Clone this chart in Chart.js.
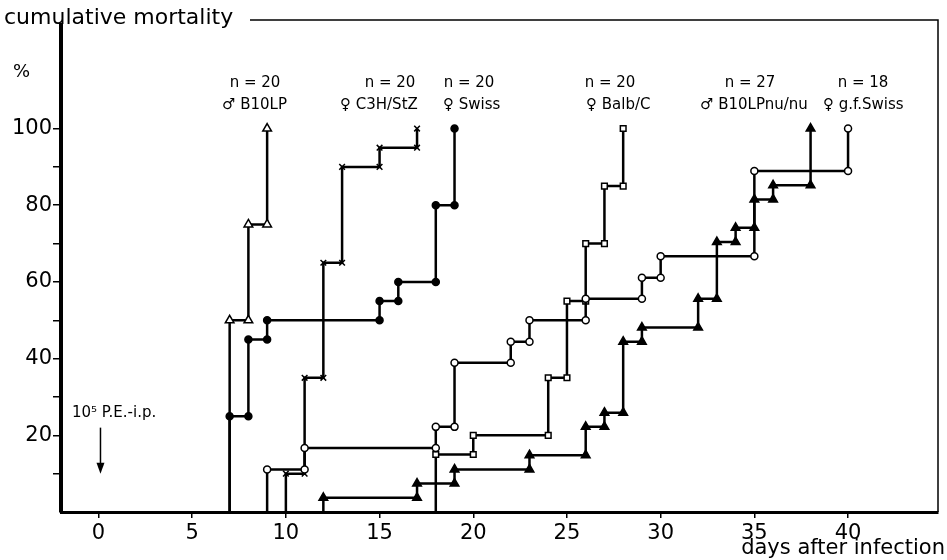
<!DOCTYPE html>
<html>
<head>
<meta charset="utf-8">
<script src="https://cdn.jsdelivr.net/npm/chart.js@4.4.1/dist/chart.umd.min.js"></script>
<style>
    body { margin: 0; background: #fff; }
    #wrap { width: 947px; height: 560px; }
</style>
</head>
<body>
<div id="wrap"><canvas id="mortality" width="947" height="560"></canvas></div>
<script>
// days on which deaths occurred and the cumulative mortality (%) reached that day
const b10lpDays = [7, 8, 9];
const b10lpPct = [50, 75, 100];
const c3hDays = [10, 11, 12, 13, 15, 17];
const c3hPct = [10, 35, 65, 90, 95, 100];
const swissDays = [7, 8, 9, 15, 16, 18, 19];
const swissPct = [25, 45, 50, 55, 60, 80, 100];
const balbDays = [18, 20, 24, 25, 26, 27, 28];
const balbPct = [15, 20, 35, 55, 70, 85, 100];
const nudeDays = [12, 17, 19, 23, 26, 27, 28, 29, 32, 33, 34, 35, 36, 38];
const nudePct = [3.7, 7.4, 11.1, 14.8, 22.2, 25.9, 44.4, 48.1, 55.6, 70.4, 74.1, 81.5, 85.2, 100];
const gfSwissDays = [9, 11, 18, 19, 22, 23, 26, 29, 30, 35, 40];
const gfSwissPct = [11.1, 16.7, 22.2, 38.9, 44.4, 50, 55.6, 61.1, 66.7, 88.9, 100];

const groupNames = ['♂ B10LP', '♀ C3H/StZ', '♀ Swiss', '♀ Balb/C', '♂ B10LPnu/nu', '♀ g.f.Swiss'];
const groupSizes = [20, 20, 20, 20, 27, 18];

const xTicks = [0, 5, 10, 15, 20, 25, 30, 35, 40];
const yTicks = [10, 20, 30, 40, 50, 60, 70, 80, 90, 100];

// turn death days into a step line with a mark at each corner
function steps(days, pct) {
    const pts = [{ x: days[0], y: 0 }];
    for (let i = 0; i < days.length; i++) {
        if (i > 0) pts.push({ x: days[i], y: pct[i - 1] });
        pts.push({ x: days[i], y: pct[i] });
    }
    return pts;
}

function series(days, pct, style, filled, radius) {
    const pts = steps(days, pct);
    return {
        data: pts,
        borderColor: '#000',
        borderWidth: 2.5,
        tension: 0,
        fill: false,
        pointStyle: style,
        pointRadius: pts.map((p, i) => i === 0 ? 0 : radius),
        pointBackgroundColor: filled ? '#000' : '#fff',
        pointBorderColor: '#000',
        pointBorderWidth: 1.5
    };
}

// label placement (pixels)
const nCenters = [255, 390, 469, 610, 750, 863];
const nameLefts = [222, 340, 443, 586, 700, 823];

const extras = {
    id: 'extras',
    afterDraw(chart) {
        const c = chart.ctx;
        const xs = chart.scales.x, ys = chart.scales.y;
        c.save();
        c.fillStyle = '#000';
        c.strokeStyle = '#000';
        c.textBaseline = 'middle';

        c.font = '22px "DejaVu Sans"';
        c.textAlign = 'left';
        c.fillText('cumulative mortality', 4, 18);
        c.lineWidth = 1.5;
        c.beginPath();
        c.moveTo(250, 20);
        c.lineTo(chart.chartArea.right, 20);
        c.lineTo(chart.chartArea.right, chart.chartArea.bottom);
        c.stroke();

        c.font = '18px "DejaVu Sans"';
        c.fillText('%', 13, 72);

        c.textAlign = 'right';
        c.font = '21px "DejaVu Sans"';
        c.fillText('days after infection', 945, 549);

        c.font = '15px "DejaVu Sans"';
        for (let i = 0; i < groupNames.length; i++) {
            c.textAlign = 'center';
            c.fillText('n = ' + groupSizes[i], nCenters[i], 83);
            c.textAlign = 'left';
            c.fillText(groupNames[i], nameLefts[i], 105);
        }

        // inoculation marker
        c.font = '15px "DejaVu Sans"';
        c.textAlign = 'left';
        c.fillText('10⁵ P.E.-i.p.', 72, 413);
        const ax = xs.getPixelForValue(0) + 2;
        const y1 = ys.getPixelForValue(22), y2 = ys.getPixelForValue(10);
        c.lineWidth = 1.5;
        c.beginPath();
        c.moveTo(ax, y1);
        c.lineTo(ax, y2 - 8);
        c.stroke();
        c.beginPath();
        c.moveTo(ax - 4, y2 - 11);
        c.lineTo(ax + 4, y2 - 11);
        c.lineTo(ax, y2);
        c.closePath();
        c.fill();
        c.restore();
    }
};

new Chart(document.getElementById('mortality'), {
    type: 'line',
    data: {
        datasets: [
            series(gfSwissDays, gfSwissPct, 'circle', false, 3.5),
            series(nudeDays, nudePct, 'triangle', true, 5),
            series(balbDays, balbPct, 'rect', false, 4),
            series(c3hDays, c3hPct, 'crossRot', false, 4),
            series(swissDays, swissPct, 'circle', true, 3.5),
            series(b10lpDays, b10lpPct, 'triangle', false, 5)
        ]
    },
    options: {
        responsive: false,
        animation: false,
        layout: {
            padding: { left: 0, top: 25, right: 9, bottom: 0 }
        },
        plugins: {
            legend: false,
            tooltip: { enabled: false }
        },
        scales: {
            x: {
                type: 'linear',
                min: -2,
                max: 44.8,
                afterBuildTicks: (s) => { s.ticks = xTicks.map(v => ({ value: v })); },
                afterFit: (s) => { s.height = 48; },
                grid: {
                    drawOnChartArea: false,
                    color: '#000',
                    lineWidth: 1.5,
                    tickLength: 6
                },
                border: { color: '#000', width: 3 },
                ticks: {
                    color: '#000',
                    padding: 3,
                    maxRotation: 0,
                    font: { family: 'DejaVu Sans', size: 21 }
                }
            },
            y: {
                min: 0,
                max: 127,
                afterBuildTicks: (s) => { s.ticks = yTicks.map(v => ({ value: v })); },
                afterFit: (s) => { s.width = 61; },
                grid: {
                    drawOnChartArea: false,
                    color: '#000',
                    lineWidth: 1.5,
                    tickLength: 8
                },
                border: { color: '#000', width: 4 },
                ticks: {
                    color: '#000',
                    padding: 1,
                    font: { family: 'DejaVu Sans', size: 21 },
                    callback: (v) => v % 20 === 0 ? v : ''
                }
            }
        }
    },
    plugins: [extras]
});
</script>
</body>
</html>
